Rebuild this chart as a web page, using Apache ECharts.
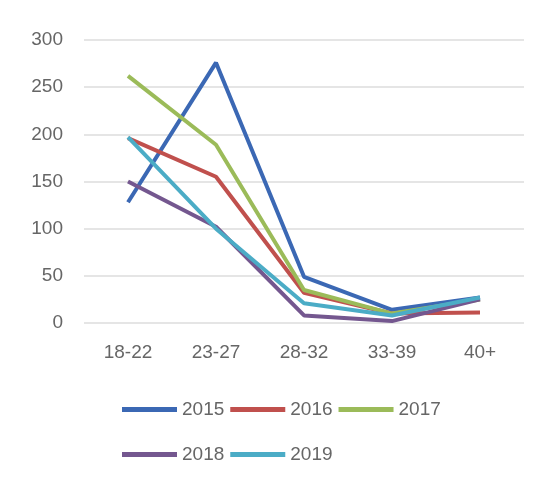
<!DOCTYPE html>
<html lang="en">
<head>
    <meta charset="UTF-8">
    <title>Age groups by year</title>
    <script src="https://cdn.jsdelivr.net/npm/echarts@6/dist/echarts.min.js"></script>
    <style>
        body { margin: 0; background: #fff; }
        #chart { width: 547px; height: 485px; }
    </style>
</head>
<body>
    <div id="chart"></div>
    <script>
        var ages = ['18-22', '23-27', '28-32', '33-39', '40+']
        var y2015 = [128, 276, 49, 14, 27]
        var y2016 = [196, 155, 32, 10, 11]
        var y2017 = [262, 189, 35, 10, 25]
        var y2018 = [150, 102, 8, 2, 25]
        var y2019 = [197, 100, 21, 8, 27]

        var colors = ['#3b68b4', '#c0504d', '#9bbb59', '#74578f', '#4bacc6']
        var names = ['2015', '2016', '2017', '2018', '2019']
        var values = [y2015, y2016, y2017, y2018, y2019]

        var mCharts = echarts.init(document.getElementById('chart'))

        var series = names.map(function(n, i) {
            return {
                name: n,
                type: 'line',
                data: values[i],
                symbol: 'none',
                lineStyle: { width: 4, color: colors[i] },
                itemStyle: { color: colors[i] }
            }
        })

        // legend is split in two rows like the original
        var legendStyle = {
            icon: 'rect',
            itemWidth: 55,
            itemHeight: 5,
            itemGap: 6,
            textStyle: { color: '#666', fontSize: 19, fontFamily: 'Liberation Sans' }
        }

        var option = {
            backgroundColor: '#fff',
            color: colors,
            grid: { left: 84, right: 23, top: 40, bottom: 162 },
            legend: [
                Object.assign({ data: ['2015', '2016', '2017'], left: 117, top: 395 }, legendStyle),
                Object.assign({ data: ['2018', '2019'], left: 117, top: 440 }, legendStyle)
            ],
            xAxis: {
                type: 'category',
                data: ages,
                axisLine: { show: false },
                axisTick: { show: false },
                axisLabel: { color: '#666', fontSize: 19, margin: 20, fontFamily: 'Liberation Sans' }
            },
            yAxis: {
                type: 'value',
                min: 0,
                max: 300,
                interval: 50,
                axisLabel: { color: '#666', fontSize: 19, margin: 21, fontFamily: 'Liberation Sans' },
                splitLine: { lineStyle: { color: '#dcdcdc', width: 1.5 } }
            },
            series: series
        }
        mCharts.setOption(option)
    </script>
</body>
</html>
